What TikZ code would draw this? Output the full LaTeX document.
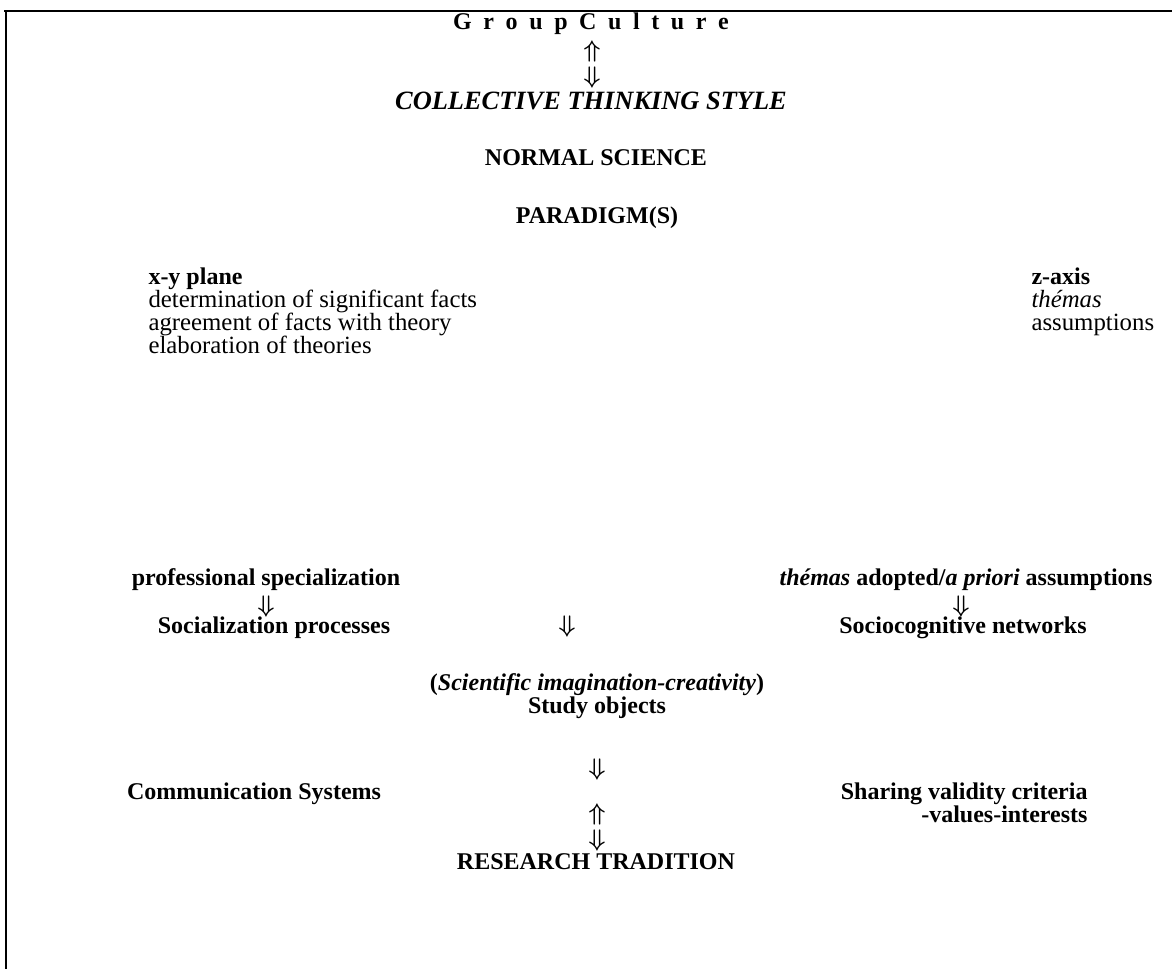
\documentclass[tikz,border=0pt]{standalone}
\usepackage{fontspec}
\setmainfont{Liberation Serif}
\usetikzlibrary{positioning}
\newcommand{\wideskip}{\spaceskip=5.8pt\relax}
\tikzset{
  every picture/.style={line width=0.5pt},
  lbl/.style={inner sep=0pt, anchor=base, font=\fontsize{12.4}{15}\selectfont},
  lblL/.style={lbl, anchor=base west},
  lblR/.style={lbl, anchor=base east},
  hd/.style={font=\fontsize{12}{15}\selectfont\bfseries},
  itl/.style={font=\fontsize{12.4}{15}\selectfont\itshape},
  ttl/.style={font=\fontsize{13.2}{15}\selectfont\bfseries\itshape},
  spc/.style={font=\fontsize{12}{15}\selectfont\bfseries\wideskip},
  sarr/.style={inner sep=0pt, font=\fontsize{12.5}{15}\selectfont\boldmath},
  frame/.style={line width=1pt},
}

\begin{document}
\begin{tikzpicture}[x=0.5pt,y=-0.5pt]
  \useasboundingbox (0,0) rectangle (1172,969);
  % open frame: top rule and left rule only
  \draw[frame] (4,11) -- (1172,11);
  \draw[frame] (6,11) -- (6,969);

  % top column
  \node[lbl,spc] (culture) at (591,29) {G r o u p C u l t u r e};
  \node[sarr] (cultUp) at (592,51) {$\Uparrow$};
  \node[sarr] (cultDn) at (592,77) {$\Downarrow$};
  \node[lbl,ttl] (style) at (591,109) {COLLECTIVE THINKING STYLE};
  \node[lbl,hd] (normal) at (596,165) {NORMAL SCIENCE};
  \node[lbl,hd] (paradigm) at (597,223) {PARADIGM(S)};

  % x-y plane
  \node[lblL,hd] (xy) at (148,284) {x-y plane};
  \node[lblL] (xyA) at (148,307) {determination of significant facts};
  \node[lblL] (xyB) at (148,330) {agreement of facts with theory};
  \node[lblL] (xyC) at (148,353) {elaboration of theories};

  % z-axis
  \node[lblL,hd] (za) at (1031,284) {z-axis};
  \node[lblL,itl] (zaA) at (1031,307) {thémas};
  \node[lblL] (zaB) at (1031,330) {assumptions};

  % left branch
  \node[lbl,hd] (prof) at (266,585) {professional specialization};
  \node[sarr] (profDn) at (266,606) {$\Downarrow$};
  \node[lbl,hd] (social) at (274,633) {Socialization processes};

  \node[sarr] (midDn) at (567,626) {$\Downarrow$};

  % right branch
  \node[lbl,hd] (themas) at (966,585) {\textit{thémas} adopted/\textit{a priori} assumptions};
  \node[sarr] (themDn) at (961,606) {$\Downarrow$};
  \node[lbl,hd] (netw) at (963,633) {Sociocognitive networks};

  % study objects
  \node[lbl,hd] (imag) at (597,690) {(\textit{Scientific imagination-creativity})};
  \node[lbl,hd] (study) at (597,713) {Study objects};
  \node[sarr] (studyDn) at (597,769) {$\Downarrow$};

  \node[lbl,hd] (comm) at (254,799) {Communication Systems};
  \node[lblR,hd] (share) at (1088,799) {Sharing validity criteria};
  \node[lblR,hd] (values) at (1088,822) {-values-interests};

  \node[sarr] (resUp) at (597,814) {$\Uparrow$};
  \node[sarr] (resDn) at (597,840) {$\Downarrow$};
  \node[lbl,hd] (research) at (596,869) {RESEARCH TRADITION};
\end{tikzpicture}
\end{document}
